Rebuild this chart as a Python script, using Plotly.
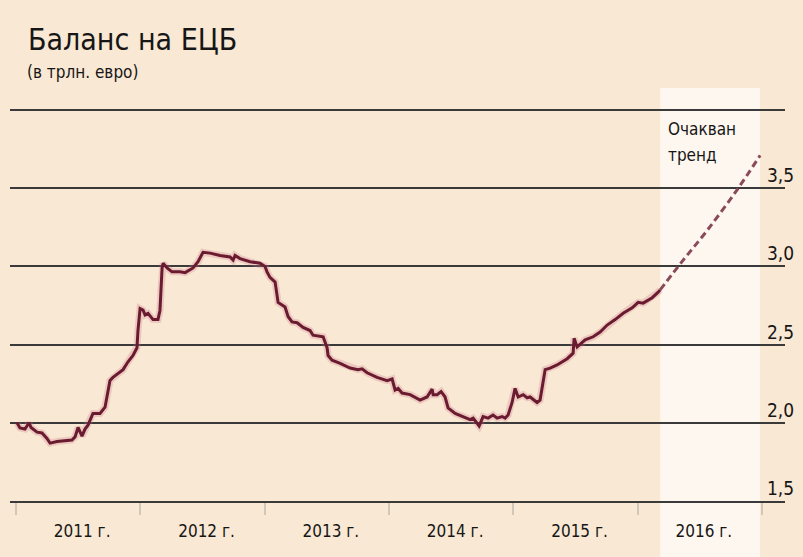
import plotly.graph_objects as go

# ---- data (decimal years, trillion euro) ----
years = [2011.008, 2011.032, 2011.072, 2011.105, 2011.121, 2011.169, 2011.209, 2011.249, 2011.274, 2011.330,
         2011.450, 2011.475, 2011.499, 2011.531, 2011.555, 2011.579, 2011.619, 2011.676, 2011.716, 2011.756,
         2011.780, 2011.837, 2011.861, 2011.901, 2011.941, 2011.973, 2011.981, 2011.998, 2012.022, 2012.038,
         2012.062, 2012.102, 2012.142, 2012.158, 2012.166, 2012.175, 2012.183, 2012.215, 2012.255, 2012.319,
         2012.360, 2012.424, 2012.464, 2012.504, 2012.561, 2012.641, 2012.722, 2012.746, 2012.762, 2012.802,
         2012.883, 2012.963, 2013.003, 2013.019, 2013.043, 2013.084, 2013.108, 2013.164, 2013.188, 2013.220,
         2013.261, 2013.309, 2013.365, 2013.389, 2013.470, 2013.502, 2013.510, 2013.542, 2013.607, 2013.687,
         2013.751, 2013.783, 2013.824, 2013.904, 2013.985, 2014.025, 2014.049, 2014.073, 2014.105, 2014.170,
         2014.250, 2014.306, 2014.347, 2014.355, 2014.387, 2014.419, 2014.451, 2014.475, 2014.532, 2014.596,
         2014.652, 2014.677, 2014.709, 2014.725, 2014.757, 2014.797, 2014.837, 2014.870, 2014.910, 2014.934,
         2014.958, 2014.990, 2015.014, 2015.039, 2015.079, 2015.111, 2015.135, 2015.191, 2015.215, 2015.256,
         2015.296, 2015.352, 2015.433, 2015.481, 2015.489, 2015.513, 2015.578, 2015.642, 2015.698, 2015.755,
         2015.819, 2015.883, 2015.956, 2016.004, 2016.044, 2016.117, 2016.165, 2016.181]
balance = [2.00, 1.967, 1.96, 2.00, 1.97, 1.94, 1.935, 1.90, 1.87, 1.88,
           1.89, 1.91, 1.97, 1.915, 1.96, 1.985, 2.06, 2.06, 2.10, 2.27,
           2.29, 2.325, 2.34, 2.39, 2.43, 2.48, 2.59, 2.73, 2.72, 2.69,
           2.70, 2.66, 2.66, 2.72, 2.85, 2.99, 3.02, 2.99, 2.965, 2.965,
           2.96, 2.99, 3.03, 3.09, 3.085, 3.07, 3.06, 3.04, 3.07, 3.05,
           3.03, 3.02, 3.00, 2.965, 2.93, 2.90, 2.77, 2.74, 2.68, 2.645,
           2.64, 2.61, 2.59, 2.56, 2.55, 2.48, 2.43, 2.40, 2.38, 2.35,
           2.34, 2.345, 2.32, 2.29, 2.27, 2.28, 2.21, 2.22, 2.19, 2.18,
           2.145, 2.165, 2.215, 2.18, 2.18, 2.20, 2.165, 2.095, 2.06, 2.04,
           2.02, 2.03, 2.00, 1.98, 2.04, 2.03, 2.05, 2.03, 2.04, 2.03,
           2.05, 2.13, 2.22, 2.165, 2.18, 2.16, 2.165, 2.13, 2.145, 2.34,
           2.35, 2.37, 2.41, 2.445, 2.54, 2.485, 2.53, 2.55, 2.58, 2.625,
           2.66, 2.70, 2.735, 2.77, 2.765, 2.80, 2.835, 2.85]

trend_years = [2016.181, 2016.366, 2016.559, 2016.800, 2016.985]
trend_values = [2.85, 3.04, 3.23, 3.49, 3.71]

year_bounds = [2011, 2012, 2013, 2014, 2015, 2016, 2017]
year_labels = ["2011 г.", "2012 г.", "2013 г.", "2014 г.", "2015 г.", "2016 г."]
y_ticks = [1.5, 2.0, 2.5, 3.0, 3.5, 4.0]
y_labels = ["1,5", "2,0", "2,5", "3,0", "3,5", ""]
band = [2016.181, 2016.985]

title = "Баланс на ЕЦБ"
subtitle = "(в трлн. евро)"
trend_note = ["Очакван", "тренд"]

# ---- style ----
BG = "#F9E8D3"
BAND = "#FDF7F0"
GRID = "#3a3a3a"
LINE = "#6a1b2f"
FONT = "DejaVu Sans Condensed, Liberation Sans Narrow, Roboto, sans-serif"
TXT = "#161616"

W, H = 803, 557
ML, MR, MT, MB = 10, 18, 100, 56
PW = W - ML - MR
plot_h = H - MT - MB
x_range = [2011 - 6 / 124.3, 2017 + 23 / 124.3]
y_range = [1.5, 1.5 + plot_h / 156.4]


def px_x(px):
    return (px - ML) / PW


def px_y(py):
    return (H - MB - py) / plot_h


fig = go.Figure()

# halo under main line
fig.add_trace(go.Scatter(x=years, y=balance, mode="lines",
                         line=dict(color="rgba(205,120,140,0.28)", width=7),
                         hoverinfo="skip", showlegend=False))
fig.add_trace(go.Scatter(x=years, y=balance, mode="lines",
                         line=dict(color=LINE, width=3), showlegend=False))
fig.add_trace(go.Scatter(x=trend_years, y=trend_values, mode="lines", line_shape="spline",
                         line=dict(color="#8a4a5a", width=3, dash="7px,4px"), showlegend=False))

fig.add_shape(type="rect", xref="x", yref="paper", x0=band[0], x1=band[1],
              y0=-MB / plot_h, y1=px_y(88), fillcolor=BAND, line_width=0, layer="below")

annotations = []
for v, t in zip(y_ticks, y_labels):
    if t:
        annotations.append(dict(x=px_x(796), y=v, xref="paper", yref="y", text=t,
                                showarrow=False, xanchor="right", yanchor="bottom", yshift=0,
                                font=dict(family=FONT, size=19, color=TXT)))
annotations.append(dict(x=px_x(26), y=px_y(20), xref="paper", yref="paper",
                        text=title, showarrow=False, xanchor="left", yanchor="top",
                        font=dict(family=FONT, size=30, color=TXT)))
annotations.append(dict(x=px_x(25), y=px_y(60), xref="paper", yref="paper",
                        text=subtitle, showarrow=False, xanchor="left", yanchor="top",
                        font=dict(family=FONT, size=17, color=TXT)))
for line_text, top in zip(trend_note, [117, 143]):
    annotations.append(dict(x=px_x(666), y=px_y(top), xref="paper", yref="paper",
                            text=line_text, showarrow=False, xanchor="left", yanchor="top",
                            font=dict(family=FONT, size=17, color=TXT)))

fig.update_layout(
    width=W, height=H,
    margin=dict(l=ML, r=MR, t=MT, b=MB, pad=0),
    paper_bgcolor=BG, plot_bgcolor="rgba(0,0,0,0)",
    annotations=annotations,
    showlegend=False,
    separators=", ",
)
fig.update_xaxes(range=x_range, showgrid=False, zeroline=False,
                 showline=True, linecolor=GRID, linewidth=2,
                 tickvals=[b + 0.5 for b in year_bounds[:-1]], ticktext=year_labels,
                 ticks="", ticklabelstandoff=14, ticklabelshift=4,
                 tickfont=dict(family=FONT, size=17, color=TXT),
                 minor=dict(tickvals=year_bounds, ticks="outside", ticklen=12, tickwidth=2,
                            tickcolor="#d3c8b8", showgrid=False))
fig.update_yaxes(range=y_range, tickvals=y_ticks, showticklabels=False, ticks="",
                 showgrid=True, gridcolor=GRID, gridwidth=2, zeroline=False)

fig.write_html("out.html")
